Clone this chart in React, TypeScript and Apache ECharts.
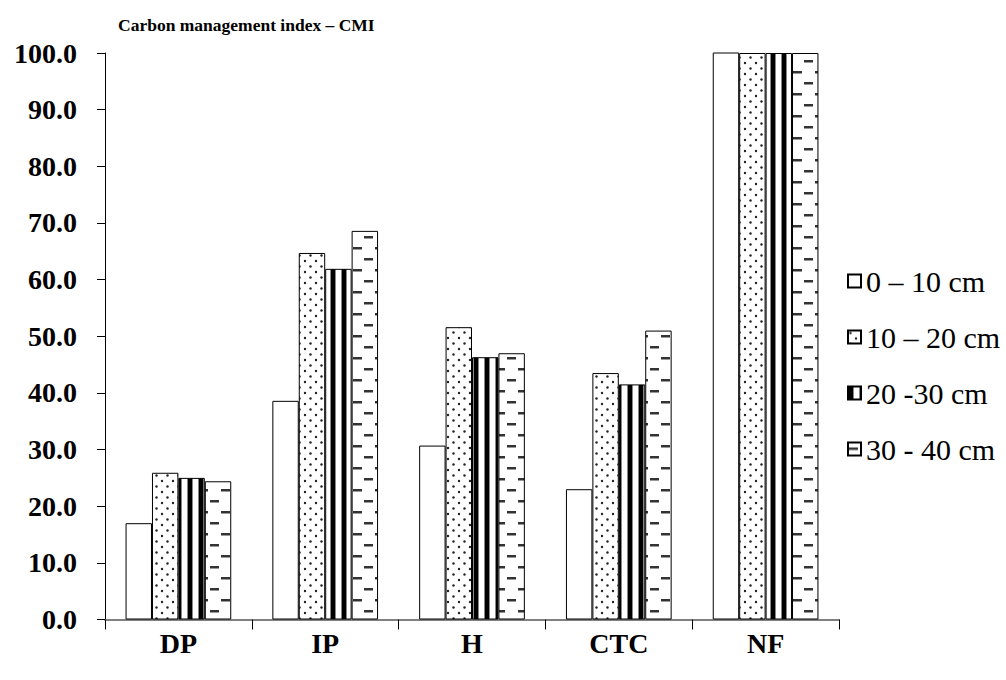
import React, { useEffect, useRef } from "react";
import * as echarts from "echarts";

const categories = ["DP", "IP", "H", "CTC", "NF"];
const seriesNames = ["0 – 10 cm", "10 – 20 cm", "20 -30 cm", "30 - 40 cm"];
const depth0to10 = [17.0, 38.6, 30.7, 23.0, 100.4];
const depth10to20 = [25.9, 64.7, 51.6, 43.5, 100.0];
const depth20to30 = [25.0, 61.9, 46.3, 41.5, 100.0];
const depth30to40 = [24.4, 68.6, 47.0, 51.0, 100.0];
const seriesValues = [depth0to10, depth10to20, depth20to30, depth30to40];

const FONT = "'Liberation Serif', 'Times New Roman', serif";

function makeCanvas(w: number, h: number, draw: (ctx: CanvasRenderingContext2D) => void) {
  const c = document.createElement("canvas");
  c.width = w;
  c.height = h;
  const ctx = c.getContext("2d")!;
  ctx.fillStyle = "#ffffff";
  ctx.fillRect(0, 0, w, h);
  draw(ctx);
  return c;
}

function pattern(c: HTMLCanvasElement) {
  return { image: c, repeat: "repeat", imageWidth: c.width, imageHeight: c.height } as any;
}

export default function App() {
  const ref = useRef<HTMLDivElement>(null);

  useEffect(() => {
    if (!ref.current) return;
    const chart = echarts.init(ref.current, undefined, { renderer: "svg" });

    const dots = makeCanvas(11, 11, (ctx) => {
      ctx.fillStyle = "#222";
      ctx.beginPath();
      ctx.arc(2.5, 2.5, 1.2, 0, Math.PI * 2);
      ctx.fill();
      ctx.beginPath();
      ctx.arc(8, 8, 1.2, 0, Math.PI * 2);
      ctx.fill();
    });
    const stripes = makeCanvas(11, 4, (ctx) => {
      ctx.fillStyle = "#888";
      ctx.fillRect(0, 0, 6, 4);
      ctx.fillStyle = "#000";
      ctx.fillRect(1, 0, 4, 4);
    });
    const dashes = makeCanvas(22, 22, (ctx) => {
      ctx.fillStyle = "#333";
      ctx.fillRect(1, 5, 9, 2.5);
      ctx.fillRect(12, 16, 9, 2.5);
    });

    const fills: any[] = ["#ffffff", pattern(dots), pattern(stripes), pattern(dashes)];

    chart.setOption({
      animation: false,
      backgroundColor: "#ffffff",
      title: {
        text: "Carbon management index – CMI",
        left: 113,
        top: 11,
        textStyle: { fontFamily: FONT, fontSize: 17.5, fontWeight: "bold", color: "#000" },
      },
      legend: {
        orient: "vertical",
        left: 842,
        top: 261,
        itemWidth: 13,
        itemHeight: 13,
        itemGap: 26,
        icon: "rect",
        textStyle: { fontFamily: FONT, fontSize: 30, color: "#000" },
        data: seriesNames,
      },
      grid: { left: 105, right: 167, top: 53, bottom: 60.5, containLabel: false },
      xAxis: {
        type: "category",
        data: categories,
        axisLine: { lineStyle: { color: "#808080", width: 2 } },
        axisTick: { show: true, length: 10, lineStyle: { color: "#000", width: 1 } },
        axisLabel: {
          margin: 10,
          fontFamily: FONT,
          fontSize: 28,
          fontWeight: "bold",
          color: "#000",
        },
      },
      yAxis: {
        type: "value",
        min: 0,
        max: 100,
        interval: 10,
        splitLine: { show: false },
        axisLine: { show: true, lineStyle: { color: "#000", width: 1 } },
        axisTick: { show: true, length: 8, lineStyle: { color: "#000" } },
        axisLabel: {
          margin: 28,
          fontFamily: FONT,
          fontSize: 28,
          fontWeight: "bold",
          color: "#000",
          formatter: (v: number) => v.toFixed(1),
        },
      },
      series: seriesNames.map((name, i) => ({
        name,
        type: "bar",
        data: seriesValues[i],
        barGap: "0%",
        barCategoryGap: "28%",
        itemStyle: { color: fills[i], borderColor: "#000", borderWidth: 1 },
      })),
    });

    return () => chart.dispose();
  }, []);

  return (
    <div
      ref={ref}
      style={{ position: "fixed", left: 0, top: 0, width: 1006, height: 680, background: "#fff" }}
    />
  );
}
